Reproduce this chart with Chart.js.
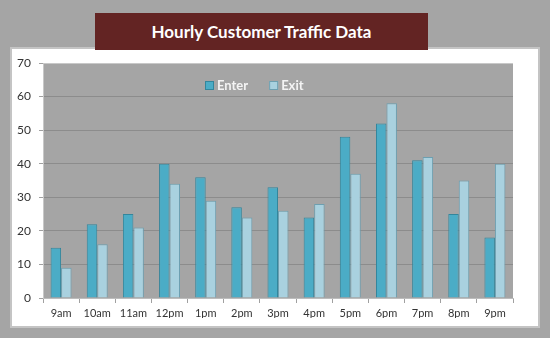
<!DOCTYPE html>
<html lang="en">
<head>
<meta charset="UTF-8">
<title>Hourly Customer Traffic Data</title>
<style>
    body {
        margin: 0;
        width: 550px;
        height: 338px;
        background-color: #a5a5a5;
        font-family: Lato, sans-serif;
        position: relative;
        overflow: hidden;
    }
    .frame {
        position: absolute;
        left: 10px;
        top: 47px;
        width: 526px;
        height: 277px;
        background: #ffffff;
        border: 2px solid #c4c4c4;
    }
    .title {
        position: absolute;
        left: 95px;
        top: 13px;
        width: 333px;
        height: 37px;
        background: #632423;
        color: #ffffff;
        font-weight: bold;
        font-size: 17px;
        line-height: 37px;
        text-align: center;
    }
    #traffic {
        position: absolute;
        left: 0;
        top: 0;
    }
</style>
<script src="https://cdn.jsdelivr.net/npm/chart.js"></script>
</head>
<body>
<div class="frame"></div>
<div class="title">Hourly Customer Traffic Data</div>
<canvas id="traffic" width="550" height="338"></canvas>
<script>
const hours = ['9am', '10am', '11am', '12pm', '1pm', '2pm', '3pm', '4pm', '5pm', '6pm', '7pm', '8pm', '9pm'];
const enterCounts = [15, 22, 25, 40, 36, 27, 33, 24, 48, 52, 41, 25, 18];
const exitCounts = [9, 16, 21, 34, 29, 24, 26, 28, 37, 58, 42, 35, 40];

// grey plot area behind the bars
const plotBackground = {
    id: 'plotBackground',
    beforeDraw(chart) {
        const a = chart.chartArea;
        const ctx = chart.ctx;
        ctx.save();
        ctx.fillStyle = '#a5a5a5';
        ctx.fillRect(a.left, a.top, a.right - a.left, a.bottom - a.top);
        ctx.restore();
    }
};

// small legend sitting inside the plot area
const innerLegend = {
    id: 'innerLegend',
    afterDraw(chart) {
        const ctx = chart.ctx;
        let x = 205;
        const y = 86;
        ctx.save();
        ctx.font = 'bold 13px Lato, sans-serif';
        ctx.textBaseline = 'middle';
        chart.data.datasets.forEach(ds => {
            ctx.fillStyle = ds.backgroundColor;
            ctx.fillRect(x, y - 5, 9, 9);
            ctx.strokeStyle = ds.borderColor;
            ctx.lineWidth = 1;
            ctx.strokeRect(x + 0.5, y - 4.5, 8, 8);
            ctx.fillStyle = '#f4f4f4';
            ctx.fillText(ds.label, x + 12, y);
            x += 12 + ctx.measureText(ds.label).width + 21;
        });
        ctx.restore();
    }
};

new Chart(document.getElementById('traffic'), {
    type: 'bar',
    data: {
        labels: hours,
        datasets: [{
            label: 'Enter',
            data: enterCounts,
            backgroundColor: '#4bacc6',
            borderColor: '#33869c',
            borderWidth: 1
        }, {
            label: 'Exit',
            data: exitCounts,
            backgroundColor: '#a9d1df',
            borderColor: '#6d9fb0',
            borderWidth: 1
        }]
    },
    options: {
        responsive: false,
        animation: false,
        layout: { padding: { left: 0, right: 37, top: 63, bottom: 20 } },
        datasets: { bar: { categoryPercentage: 0.58, barPercentage: 1 } },
        plugins: {
            legend: { display: false },
            tooltip: { enabled: false }
        },
        scales: {
            x: {
                afterFit: s => { s.height = 20; },
                grid: {
                    offset: true,
                    drawOnChartArea: false,
                    tickLength: 5,
                    tickColor: '#a0a0a0'
                },
                border: { color: '#bdbdbd', width: 1 },
                ticks: {
                    color: '#333333',
                    font: { family: 'Lato', size: 11 },
                    padding: 4
                }
            },
            y: {
                min: 0,
                max: 70,
                afterFit: s => { s.width = 43; },
                grid: {
                    color: ctx => ctx.tick && ctx.tick.value === 70 ? '#c8c8c8' : '#8c8c8c',
                    tickColor: '#a0a0a0',
                    tickLength: 4
                },
                border: { color: '#c8c8c8', width: 1 },
                ticks: {
                    stepSize: 10,
                    color: '#333333',
                    font: { family: 'Lato', size: 12 },
                    padding: 8
                }
            }
        }
    },
    plugins: [plotBackground, innerLegend]
});
</script>
</body>
</html>
